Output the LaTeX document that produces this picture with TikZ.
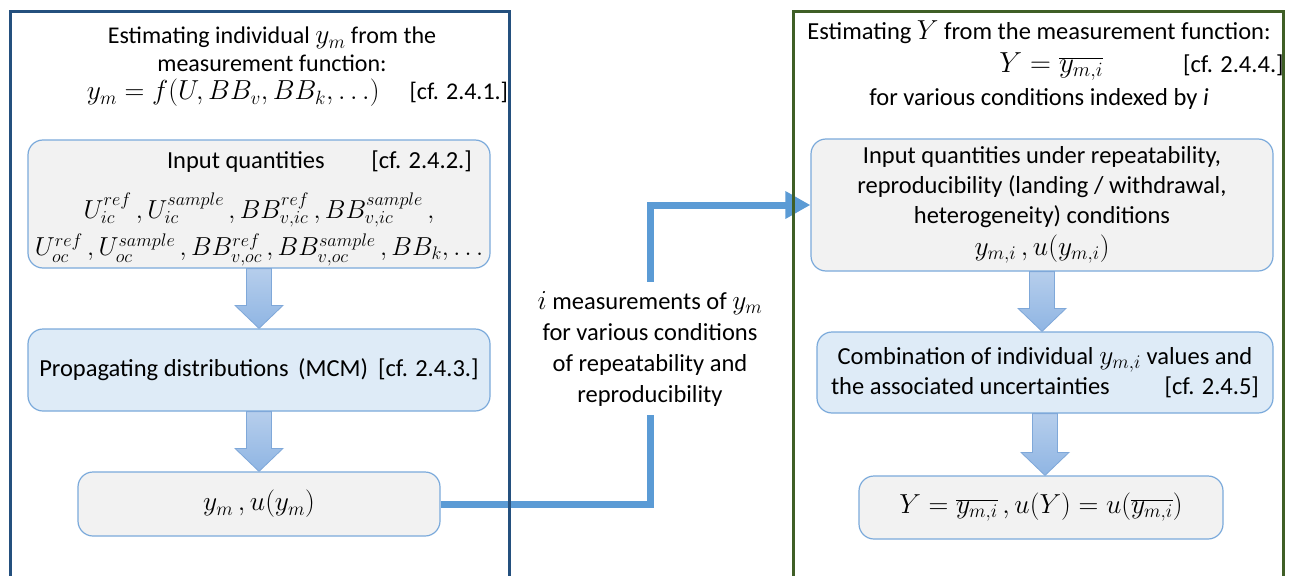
\RequirePackage{fix-cm}
\documentclass[tikz,border=0pt]{standalone}
\usepackage{fontspec}
\setmainfont{Carlito}
\usetikzlibrary{arrows.meta,calc}
\definecolor{frameblue}{HTML}{24507E}
\definecolor{framegreen}{HTML}{3F5F26}
\definecolor{boxgrey}{HTML}{F2F2F2}
\definecolor{boxblue}{HTML}{DEEBF7}
\definecolor{boxline}{HTML}{7BAADB}
\definecolor{connblue}{HTML}{5B9BD5}
\definecolor{arrtop}{HTML}{B6CEEC}
\definecolor{arrbot}{HTML}{8FB5E3}
\definecolor{arrline}{HTML}{7FA8D9}
\newcommand\blockarr[2]{%
  \path[blockarrow] let \p1=(#1.south), \p2=(#2.north) in
    (\x1-12.5pt,\y1) -- (\x1+12.5pt,\y1) -- (\x1+12.5pt,\y2+23pt) -- (\x1+24pt,\y2+23pt)
    -- (\x1,\y2) -- (\x1-24pt,\y2+23pt) -- (\x1-12.5pt,\y2+23pt) -- cycle;}
\newcommand\M[1]{{\fontsize{27.5}{30}\selectfont$#1$}}
\newcommand\MS[2]{{\fontsize{#1}{30}\selectfont$#2$}}
\begin{document}
\begin{tikzpicture}[x=1pt,y=-1pt,
  every node/.style={font=\fontsize{24.5}{30}\selectfont, inner sep=0pt},
  ibox/.style={draw=boxline, line width=1.2pt, rounded corners=15pt, align=center},
  greybox/.style={ibox, fill=boxgrey},
  bluebox/.style={ibox, fill=boxblue},
  frameL/.style={draw=frameblue, line width=3pt},
  frameR/.style={draw=framegreen, line width=3pt},
  conn/.style={draw=connblue, line width=7pt, -{Triangle[length=25pt,width=26pt]}},
  blockarrow/.style={top color=arrtop, bottom color=arrbot, draw=arrline, line width=0.8pt},
  label/.style={align=center, font=\fontsize{24.5}{31}\selectfont},
]
\useasboundingbox (0,0) rectangle (1289,575);
\fill[white] (0,0) rectangle (1289,575);

% left column
\node[label, font=\fontsize{24}{28}\selectfont] (ltitle) at (272,67)
  {Estimating individual \M{y_m} from the\\
   measurement function:\\
   \hspace*{51pt}\M{y_m = f(U, BB_v, BB_k, \ldots)}\hspace{30pt}[cf. 2.4.1.]};

\node[greybox, minimum width=462pt, minimum height=128pt] (lin) at (259,204)
  {\rule{0pt}{26pt}\makebox[444pt][l]{\hspace{130pt}Input quantities\hfill[cf. 2.4.2.]\hspace{9pt}}\\[20pt]
   \MS{26}{U_{ic}^{ref}\,,U_{ic}^{sample}\,,BB_{v,ic}^{ref}\,,BB_{v,ic}^{sample}\,,}\\[6pt]
   \MS{26}{U_{oc}^{ref}\,,U_{oc}^{sample}\,,BB_{v,oc}^{ref}\,,BB_{v,oc}^{sample}\,,BB_k,\ldots}};

\node[bluebox, minimum width=462pt, minimum height=82pt] (lprop) at (259,370)
  {Propagating distributions \,(MCM)\hspace{10pt}[cf. 2.4.3.]};

\node[greybox, minimum width=362pt, minimum height=64pt] (lym) at (259,504)
  {\M{y_m\,,u(y_m)}};

\blockarr{lin}{lprop}
\blockarr{lprop}{lym}

% right column
\node[label, font=\fontsize{24.5}{33}\selectfont] (rtitle) at (1039,65)
  {Estimating \M{Y} from the measurement function:\\
   \hspace*{205pt}\MS{29}{Y = \overline{y_{m,i}}}\hspace{80pt}[cf. 2.4.4.]\\
   for various conditions indexed by \textit{i}};

\node[greybox, minimum width=462pt, minimum height=132pt] (rin) at (1042,205)
  {Input quantities under repeatability,\\
   reproducibility (landing / withdrawal,\\
   heterogeneity) conditions\\[2pt]
   \M{y_{m,i}\,,u(y_{m,i})}};

\node[bluebox, minimum width=456pt, minimum height=81pt] (rcomb) at (1045,372.5)
  {Combination of individual \M{y_{m,i}} values and\\
   \makebox[428pt]{the associated uncertainties\hfill[cf. 2.4.5]}};

\node[greybox, minimum width=364pt, minimum height=63pt] (rres) at (1041,507.5)
  {\M{Y=\overline{y_{m,i}}\,,u(Y)=u\bigl(\overline{y_{m,i}}\bigr)}};

\blockarr{rin}{rcomb}
\blockarr{rcomb}{rres}

% connector
\coordinate (bx) at (650,0);
\draw[conn] (lym.east) -- (lym.east -| bx) |- (rin.west)
  node[pos=0.25, fill=white, inner xsep=4pt, inner ysep=9pt, yshift=6pt, label] (mlabel)
  {\M{i} measurements of \M{y_m}\\for various conditions\\of repeatability and\\reproducibility};

% frames
\draw[frameL] (10,580) -- (10,12) -- (509,12) -- (509,580);
\draw[frameR] (793,580) -- (793,12) -- (1283,12) -- (1283,580);
\end{tikzpicture}
\end{document}
